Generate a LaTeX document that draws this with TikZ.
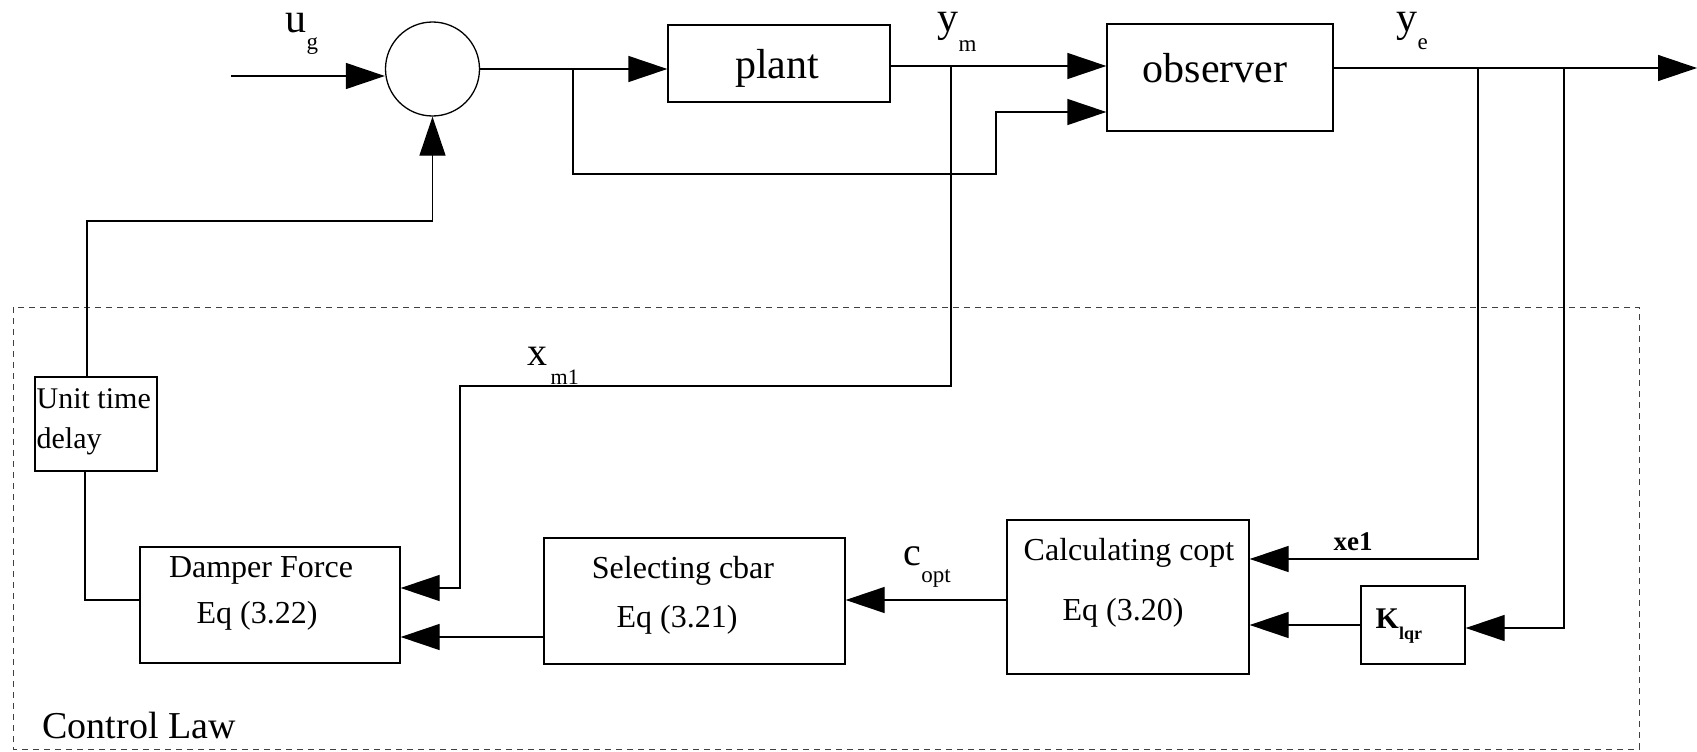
\documentclass[tikz,border=0pt]{standalone}
\usepackage{fontspec}
\setmainfont{Liberation Serif}
\usetikzlibrary{arrows.meta}
\begin{document}
\begin{tikzpicture}[x=1pt,y=-1pt,
  line width=1.3pt,
  arr/.style={-{Triangle[length=39pt,width=26pt]}},
  blk/.style={draw, inner sep=0pt},
  lab/.style={anchor=base, inner sep=0pt},
  labw/.style={anchor=base west, inner sep=0pt},
  bigf/.style={font=\fontsize{42}{50}\selectfont},
  midf/.style={font=\fontsize{40}{48}\selectfont},
  boxf/.style={font=\fontsize{32}{38}\selectfont},
  udf/.style={font=\fontsize{30}{36}\selectfont},
  dashbox/.style={draw=black!75, line width=1pt, dash pattern=on 6pt off 5pt}
]
\useasboundingbox (0,0) rectangle (1697,752);

% dashed control law region
\draw[dashbox] (13,307) rectangle (1639,749);
\node[labw, font=\fontsize{38}{44}\selectfont] (cl) at (42,738) {Control Law};

% blocks
\node[circle, draw, minimum size=94pt, inner sep=0pt] (sum) at (432.5,69) {};
\node[blk, minimum width=222pt, minimum height=77pt] (plant) at (779,63.5) {};
\node[blk, minimum width=226pt, minimum height=107pt] (obs) at (1220,77.5) {};
\node[blk, minimum width=122pt, minimum height=94pt] (ud) at (96,424) {};
\node[blk, minimum width=260pt, minimum height=116pt] (damp) at (270,605) {};
\node[blk, minimum width=301pt, minimum height=126pt] (sel) at (694.5,601) {};
\node[blk, minimum width=242pt, minimum height=154pt] (calc) at (1128,597) {};
\node[blk, minimum width=104pt, minimum height=78pt] (klqr) at (1413,625) {};

% block texts
\node[lab, bigf] (plantt) at (777,78) {plant};
\node[lab, bigf] (obst) at (1215,82) {observer};
\node[labw, udf] (udt1) at (36,408) {Unit time};
\node[labw, udf] (udt2) at (36,448) {delay};
\node[lab, boxf] (dampt1) at (261,577) {Damper Force};
\node[lab, boxf] (dampt2) at (257,623) {Eq (3.22)};
\node[lab, boxf] (selt1) at (683,578) {Selecting cbar};
\node[lab, boxf] (selt2) at (677,627) {Eq (3.21)};
\node[lab, boxf] (calct1) at (1129,560) {Calculating copt};
\node[lab, boxf] (calct2) at (1123,620) {Eq (3.20)};
\node[labw, font=\bfseries\fontsize{30}{36}\selectfont] (klt) at (1375,628) {K\raisebox{-11pt}{\fontsize{18}{20}\selectfont lqr}};

% signal labels
\node[labw, bigf] (ug) at (285,33) {u\raisebox{-17pt}{\fontsize{23}{27}\selectfont g}};
\node[labw, bigf] (ym) at (937,32) {y\raisebox{-20pt}{\fontsize{23}{27}\selectfont m}};
\node[labw, bigf] (ye) at (1396,32) {y\raisebox{-18pt}{\fontsize{23}{27}\selectfont e}};
\node[labw, midf] (xm) at (527,365) {x\hspace{3pt}\raisebox{-19pt}{\fontsize{22}{26}\selectfont m1}};
\node[labw, midf] (co) at (903,565) {c\raisebox{-17pt}{\fontsize{23}{27}\selectfont opt}};
\node[labw, font=\bfseries\fontsize{27}{30}\selectfont] (xe) at (1333,550) {xe1};

% coordinates
\coordinate (in) at (231,76);
\coordinate (j1) at (573,69);
\coordinate (j1b) at (573,174);
\coordinate (j1c) at (996,174);
\coordinate (j1d) at (996,112);
\coordinate (j2) at (951,66);
\coordinate (xa) at (951,386);
\coordinate (xb) at (460,386);
\coordinate (xc) at (460,588);
\coordinate (out) at (1697,68);
\coordinate (j3) at (1478,68);
\coordinate (j3b) at (1478,559);
\coordinate (j4) at (1564,68);
\coordinate (j4b) at (1564,628);
\coordinate (cp) at (1007,600);
\coordinate (sc) at (544,637);
\coordinate (fb1) at (87,221);
\coordinate (fb2) at (432.5,221);
\coordinate (d1) at (85,600);

% connectors
\draw[arr] (in) -- (in -| sum.west);
\draw[arr] (sum.east) -- (sum.east -| plant.west);
\draw[arr] (j1) -- (j1b) -- (j1c) -- (j1d) -- (j1d -| obs.west);
\draw[arr] (plant.east |- j2) -- (j2 -| obs.west);
\draw[arr] (j2) -- (xa) -- (xb) -- (xc) -- (xc -| damp.east);
\draw[arr] (obs.east |- out) -- (out);
\draw[arr] (j3) -- (j3b) -- (j3b -| calc.east);
\draw[arr] (j4) -- (j4b) -- (j4b -| klqr.east);
\draw[arr] (klqr.west) -- (klqr.west -| calc.east);
\draw[arr] (calc.west |- cp) -- (cp -| sel.east);
\draw[arr] (sel.west |- sc) -- (sc -| damp.east);
\draw[arr] (fb1 |- ud.north) -- (fb1) -- (fb2) -- (sum.south);
\draw (damp.west |- d1) -- (d1) -- (d1 |- ud.south);
\end{tikzpicture}
\end{document}
